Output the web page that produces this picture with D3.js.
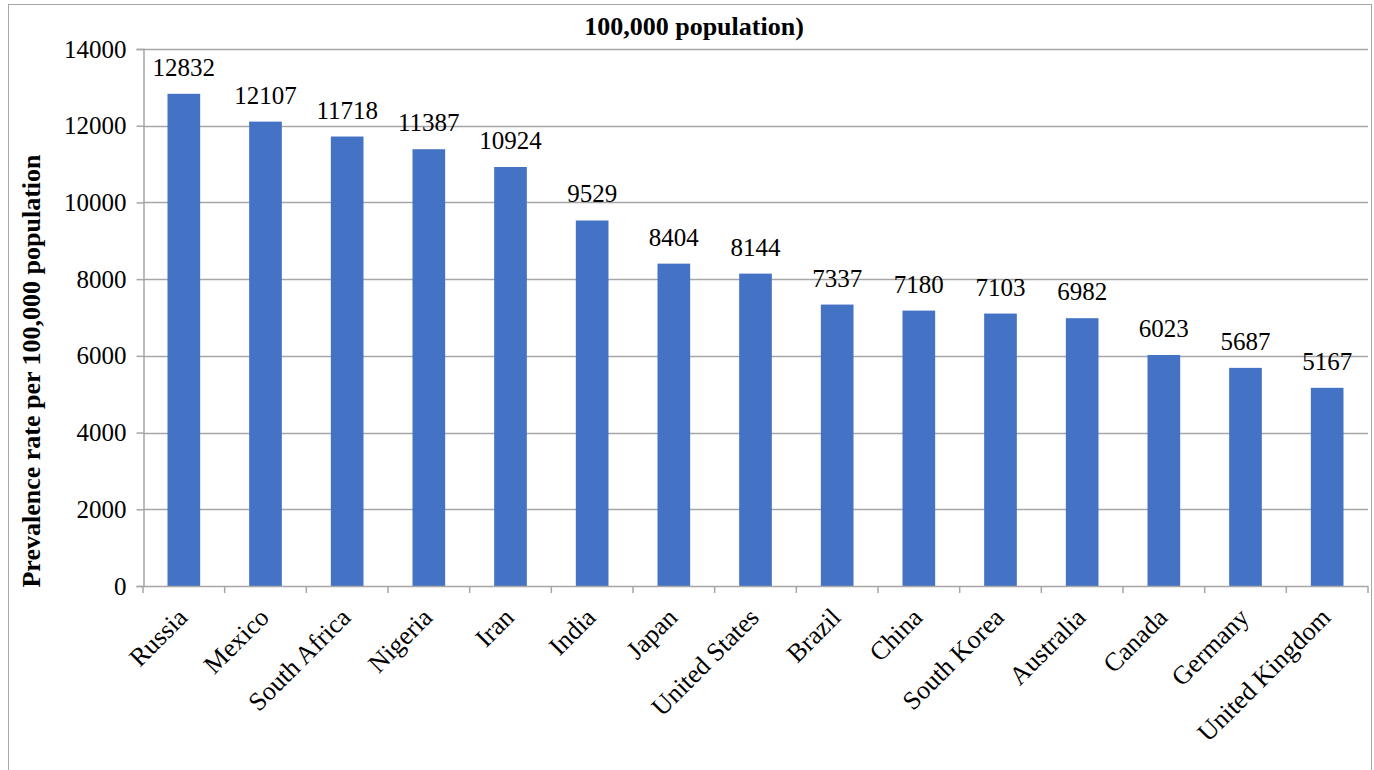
<!DOCTYPE html>
<html>
<head>
<meta charset="utf-8">
<script src="https://cdn.jsdelivr.net/npm/d3@7"></script>
<style>
  body { margin: 0; background: #fff; }
</style>
</head>
<body>
<svg id="chart" width="1374" height="770"></svg>
<script>
// data
const countries = ['Russia', 'Mexico', 'South Africa', 'Nigeria', 'Iran', 'India', 'Japan',
  'United States', 'Brazil', 'China', 'South Korea', 'Australia', 'Canada', 'Germany', 'United Kingdom'];
const prevalence = [12832, 12107, 11718, 11387, 10924, 9529, 8404, 8144, 7337, 7180, 7103, 6982, 6023, 5687, 5167];
const yTicks = [0, 2000, 4000, 6000, 8000, 10000, 12000, 14000];

const serif = '"Liberation Serif", "Times New Roman", serif';
const svg = d3.select('#chart');

// outer chart border (bottom runs off the page)
svg.append('rect')
  .attr('x', 8.5).attr('y', 4.5)
  .attr('width', 1363).attr('height', 800)
  .attr('fill', 'none').attr('stroke', '#a6a6a6').attr('stroke-width', 1);

const plotLeft = 143, plotRight = 1368, plotTop = 49, plotBottom = 586;

const x = d3.scaleBand()
  .domain(countries)
  .range([plotLeft, plotRight])
  .paddingInner(0.6)
  .paddingOuter(0.3);

const y = d3.scaleLinear()
  .domain([0, 14000])
  .range([plotBottom, plotTop]);

// gridlines
svg.append('g')
  .selectAll('line')
  .data(yTicks.filter(d => d > 0))
  .join('line')
  .attr('x1', plotLeft).attr('x2', plotRight)
  .attr('y1', d => Math.round(y(d)) + 0.5).attr('y2', d => Math.round(y(d)) + 0.5)
  .attr('stroke', '#a6a6a6').attr('stroke-width', 1.5);

// y axis
const yAxis = svg.append('g')
  .attr('transform', `translate(${plotLeft + 0.5},0)`)
  .call(d3.axisLeft(y).tickValues(yTicks).tickSize(7).tickPadding(10).tickFormat(d3.format('d')));
yAxis.attr('font-family', serif).attr('font-size', 25);
yAxis.select('.domain').attr('stroke', '#a6a6a6').attr('stroke-width', 1.5);
yAxis.selectAll('.tick line').attr('stroke', '#a6a6a6').attr('stroke-width', 1.5);
yAxis.selectAll('.tick text').attr('fill', '#000');

// bars
svg.append('g')
  .selectAll('rect')
  .data(prevalence)
  .join('rect')
  .attr('x', (d, i) => x(countries[i]))
  .attr('y', d => y(d))
  .attr('width', x.bandwidth())
  .attr('height', d => plotBottom - y(d))
  .attr('fill', '#4472c4');

// value labels
svg.append('g')
  .attr('font-family', serif)
  .attr('font-size', 25)
  .selectAll('text')
  .data(prevalence)
  .join('text')
  .attr('x', (d, i) => x(countries[i]) + x.bandwidth() / 2)
  .attr('y', d => y(d) - 18)
  .attr('text-anchor', 'middle')
  .text(d => d);

// x axis line and ticks between categories
const step = x.step();
const xg = svg.append('g');
xg.append('line')
  .attr('x1', plotLeft).attr('x2', plotRight)
  .attr('y1', plotBottom + 0.5).attr('y2', plotBottom + 0.5)
  .attr('stroke', '#a6a6a6').attr('stroke-width', 1.5);
xg.selectAll('line.tk')
  .data(d3.range(countries.length + 1))
  .join('line')
  .attr('class', 'tk')
  .attr('x1', i => plotLeft + i * step).attr('x2', i => plotLeft + i * step)
  .attr('y1', plotBottom).attr('y2', plotBottom + 7)
  .attr('stroke', '#a6a6a6').attr('stroke-width', 1.5);

// rotated category labels
xg.selectAll('text')
  .data(countries)
  .join('text')
  .attr('transform', d => `translate(${x(d) + x.bandwidth() / 2 + 5},${plotBottom + 33}) rotate(-45)`)
  .attr('text-anchor', 'end')
  .attr('font-family', serif)
  .attr('font-size', 26)
  .text(d => d);

// y axis title
svg.append('text')
  .attr('transform', 'translate(40,371) rotate(-90)')
  .attr('text-anchor', 'middle')
  .attr('font-family', serif)
  .attr('font-size', 26)
  .attr('font-weight', 'bold')
  .text('Prevalence rate per 100,000 population');

// chart title (first line cut off in the original)
svg.append('text')
  .attr('x', 694).attr('y', 35)
  .attr('text-anchor', 'middle')
  .attr('font-family', serif)
  .attr('font-size', 26)
  .attr('font-weight', 'bold')
  .text('100,000 population)');
</script>
</body>
</html>
